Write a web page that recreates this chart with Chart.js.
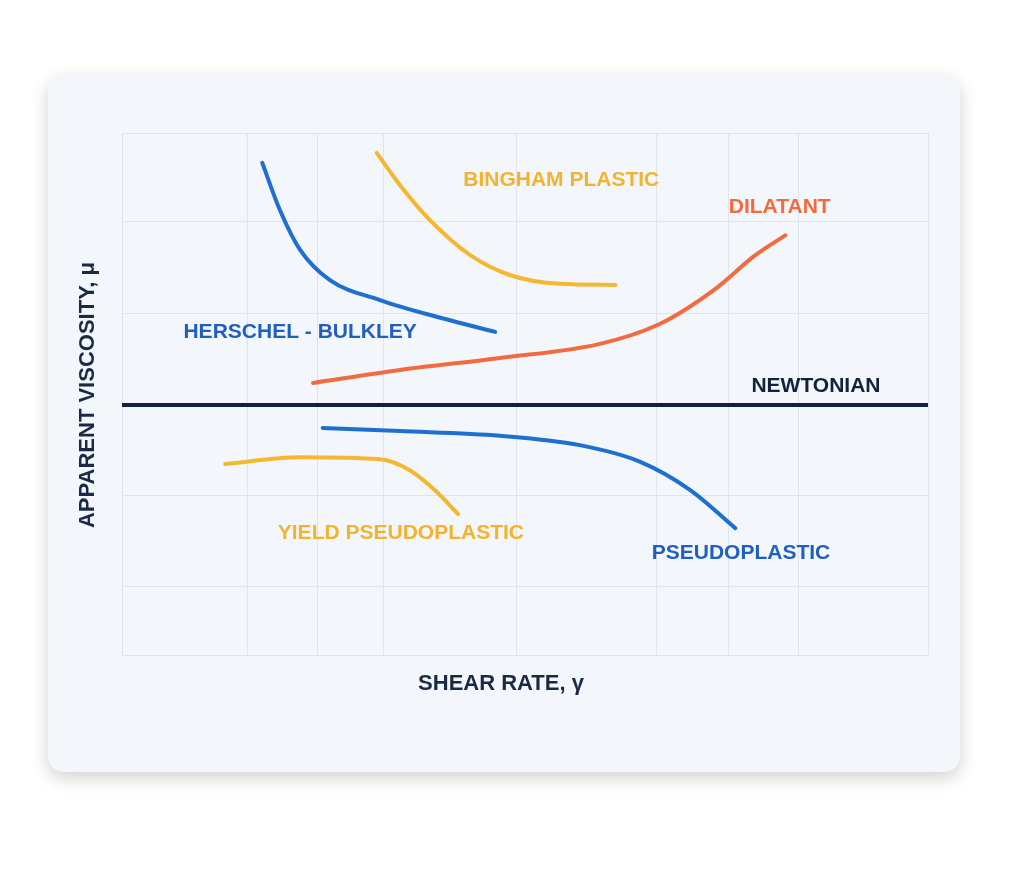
<!DOCTYPE html>
<html>
<head>
<meta charset="utf-8">
<script src="https://cdn.jsdelivr.net/npm/chart.js@4"></script>
<style>
  html, body { margin: 0; padding: 0; background: #ffffff; }
  #wrap { position: relative; width: 1024px; height: 869px; }
  #card {
    position: absolute; left: 48px; top: 75px; width: 912px; height: 697px;
    background: #f3f6fb; border-radius: 16px;
    box-shadow: 0 6px 18px rgba(0, 0, 0, 0.18);
  }
  canvas { position: absolute; left: 0; top: 0; }
</style>
</head>
<body>
<div id="wrap">
  <div id="card"></div>
  <canvas id="chart" width="1024" height="869"></canvas>
</div>
<script>
// curves as [shear rate, viscosity] in arbitrary 0-100 units
const herschelBulkley = [[17.4, 94.3], [19.6, 85.2], [22.1, 77.6], [25.8, 71.8], [32.0, 68.0], [39.5, 64.6], [46.3, 61.9]];
const bingham = [[31.6, 96.2], [34.5, 90.0], [38.2, 83.3], [43.2, 76.6], [48.1, 72.8], [54.3, 71.1], [61.2, 70.9]];
const dilatant = [[23.7, 52.1], [34.5, 54.6], [46.9, 56.9], [59.3, 59.6], [66.7, 63.4], [73.5, 70.0], [78.5, 76.5], [82.3, 80.4]];
const newtonian = [[0, 47.9], [100, 47.9]];
const pseudoplastic = [[24.9, 43.5], [34.5, 42.9], [46.9, 42.0], [56.8, 40.2], [64.3, 37.0], [70.5, 31.6], [76.1, 24.3]];
const yieldPseudo = [[12.8, 36.6], [22.1, 37.9], [32.0, 37.5], [35.7, 35.4], [38.8, 31.6], [41.7, 27.0]];

// irregular grid positions
const xGrid = [0, 15.6, 24.3, 32.5, 48.9, 66.3, 75.2, 83.9, 100];
const yGrid = [0, 13.2, 30.5, 47.9, 65.5, 83.0, 100];

// curve labels: [text, x, y, colour]
const labels = [
    ['BINGHAM PLASTIC', 54.5, 91.0, '#f2b42e'],
    ['DILATANT', 81.6, 85.8, '#f26a3d'],
    ['HERSCHEL - BULKLEY', 22.1, 61.9, '#1f5fbf'],
    ['NEWTONIAN', 86.1, 51.5, '#14213d'],
    ['YIELD PSEUDOPLASTIC', 34.6, 23.4, '#f2b42e'],
    ['PSEUDOPLASTIC', 76.8, 19.5, '#1f5fbf']
];

const BLUE = '#1f6fd0', YELLOW = '#f5b731', ORANGE = '#f26a3d', NAVY = '#14213d';

function series(pts, color, width) {
    return {
        data: pts.map(p => ({ x: p[0], y: p[1] })),
        borderColor: color,
        borderWidth: width || 4,
        pointRadius: 0,
        cubicInterpolationMode: 'monotone',
        borderCapStyle: 'round',
        fill: false
    };
}

const textPlugin = {
    id: 'texts',
    afterDraw(chart) {
        const c = chart.ctx, xs = chart.scales.x, ys = chart.scales.y;
        c.save();
        c.textAlign = 'center';
        c.textBaseline = 'middle';
        c.font = 'bold 21px "Liberation Sans", Arial, sans-serif';
        labels.forEach(l => {
            c.fillStyle = l[3];
            c.fillText(l[0], xs.getPixelForValue(l[1]), ys.getPixelForValue(l[2]));
        });
        c.fillStyle = '#1b2a44';
        c.font = 'bold 22px "Liberation Sans", Arial, sans-serif';
        c.fillText('SHEAR RATE, γ', 501, 684);
        c.translate(88, 395);
        c.rotate(-Math.PI / 2);
        c.fillText('APPARENT VISCOSITY, μ', 0, 0);
        c.restore();
    }
};

new Chart(document.getElementById('chart').getContext('2d'), {
    type: 'line',
    data: {
        datasets: [
            series(herschelBulkley, BLUE),
            series(bingham, YELLOW),
            series(dilatant, ORANGE),
            series(newtonian, NAVY, 4),
            series(pseudoplastic, BLUE),
            series(yieldPseudo, YELLOW)
        ]
    },
    options: {
        responsive: false,
        animation: false,
        layout: { padding: { left: 122, right: 96, top: 133, bottom: 214 } },
        scales: {
            x: {
                type: 'linear', min: 0, max: 100,
                afterBuildTicks: axis => { axis.ticks = xGrid.map(v => ({ value: v })); },
                ticks: { display: false },
                grid: { color: '#dfe3ea', lineWidth: 1, drawTicks: false },
                border: { display: false }
            },
            y: {
                type: 'linear', min: 0, max: 100,
                afterBuildTicks: axis => { axis.ticks = yGrid.map(v => ({ value: v })); },
                ticks: { display: false },
                grid: { color: '#dfe3ea', lineWidth: 1, drawTicks: false },
                border: { display: false }
            }
        },
        plugins: {
            legend: { display: false },
            tooltip: { enabled: false }
        }
    },
    plugins: [textPlugin]
});
</script>
</body>
</html>
